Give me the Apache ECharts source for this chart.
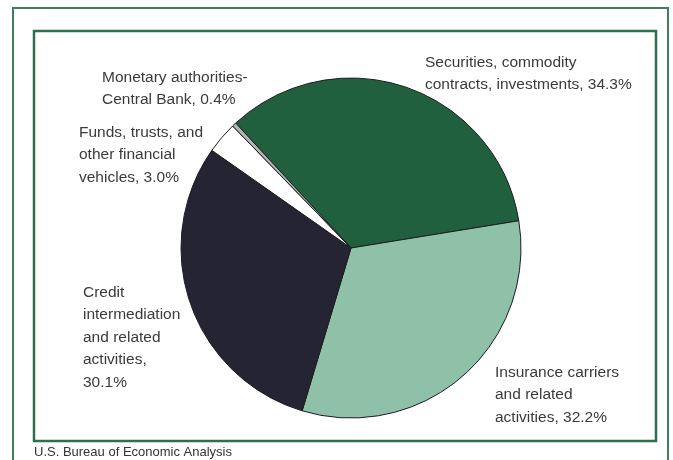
<!DOCTYPE html>
<html>
<head>
<meta charset="utf-8">
<script src="https://cdn.jsdelivr.net/npm/echarts@6/dist/echarts.min.js"></script>
<style>
  html, body { margin: 0; padding: 0; background: #fff; }
  #chart { width: 673px; height: 460px; }
</style>
</head>
<body>
<div id="chart"></div>
<script>
// 数据
const categories = [
  "Securities, commodity\ncontracts, investments",
  "Insurance carriers\nand related\nactivities",
  "Credit\nintermediation\nand related\nactivities",
  "Funds, trusts, and\nother financial\nvehicles",
  "Monetary authorities-\nCentral Bank"
];
const shares = [34.3, 32.2, 30.1, 3.0, 0.4];
const valueOnNewLine = [false, false, true, false, false];

// 样式
const sliceColors = ["#21603f", "#8fc0a8", "#242432", "#ffffff", "#b4b4b4"];
const labelPos = [
  [425, 51],
  [495, 361],
  [83, 281],
  [79, 121],
  [102, 66]
];
const font = "'Liberation Sans', Arial, sans-serif";

let myChart = echarts.init(document.getElementById("chart"));

let option = {
  backgroundColor: "#ffffff",
  animation: false,
  title: {
    text: "U.S. Bureau of Economic Analysis",
    left: 29,
    top: 441,
    textStyle: {
      fontFamily: font,
      fontSize: 13,
      fontWeight: "normal",
      color: "#333333"
    }
  },
  graphic: [
    {
      type: "rect",
      shape: { x: 13, y: 8, width: 655, height: 470 },
      style: { fill: "none", stroke: "#3f7f5f", lineWidth: 2 },
      silent: true
    },
    {
      type: "rect",
      shape: { x: 34, y: 31, width: 622, height: 410 },
      style: { fill: "none", stroke: "#2f6e4e", lineWidth: 2.5 },
      silent: true
    }
  ],
  series: [
    {
      type: "pie",
      center: [351, 248],
      radius: 170,
      startAngle: 132.7,
      clockwise: true,
      avoidLabelOverlap: false,
      silent: true,
      itemStyle: {
        borderColor: "#1c1c1c",
        borderWidth: 1
      },
      label: {
        show: true,
        position: "outside",
        fontFamily: font,
        fontSize: 15.5,
        lineHeight: 22.5,
        color: "#3a3a3a",
        formatter: function (p) {
          let sep = valueOnNewLine[p.dataIndex] ? ",\n" : ", ";
          return p.name + sep + p.value.toFixed(1) + "%";
        }
      },
      labelLine: { show: false },
      labelLayout: function (params) {
        let pos = labelPos[params.dataIndex];
        return { x: pos[0], y: pos[1], align: "left", verticalAlign: "top" };
      },
      data: categories.map((name, i) => ({
        name: name,
        value: shares[i],
        itemStyle: { color: sliceColors[i] }
      }))
    }
  ]
};

myChart.setOption(option);
</script>
</body>
</html>
